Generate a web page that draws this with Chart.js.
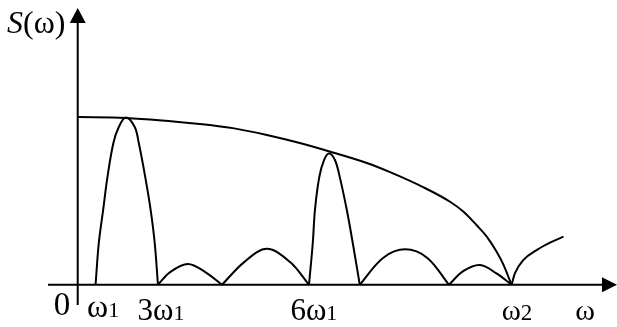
<!DOCTYPE html>
<html>
<head>
<meta charset="utf-8">
<script src="https://cdn.jsdelivr.net/npm/chart.js@4"></script>
<style>
  html, body { margin: 0; padding: 0; background: #fff; }
  #wrap { width: 617px; height: 327px; position: relative; }
</style>
</head>
<body>
<div id="wrap"><canvas id="chart"></canvas></div>
<script>
// axis ranges (x: frequency, y: spectral density, arbitrary units)
const xMin = -5.5, xMax = 99.8;
const yMin = -7.3, yMax = 100;

// envelope S(w), falls to zero at w2
const envelope = [[0,60.6],[8.9,60.3],[22.6,58.1],[28.7,56.6],[35.0,54.1],[41.1,51.2],[47.2,47.8],[53.5,44.0],[57.8,40.7],[63.9,35.3],[68.9,30.0],[71.4,26.4],[73.8,21.6],[75.7,17.4],[77.5,12.0],[78.8,7.2],[79.7,2.9],[80.3,0]];

// lobes of the spectrum
const mainLobe1 = [[3.3,0],[3.9,15.1],[4.7,27.0],[5.5,38.9],[6.6,51.2],[7.6,57.0],[8.9,60.4],[10.55,57.0],[11.3,51.2],[12.5,38.9],[13.5,27.0],[14.25,15.1],[14.85,0]];
const sideLobe1 = [[14.85,0],[17.1,4.6],[20.4,7.5],[23.6,4.6],[26.7,0]];
const sideLobe2 = [[26.7,0],[30.8,8.2],[35.0,13.0],[39.3,8.2],[42.8,0]];
const mainLobe2 = [[42.8,0],[43.5,15.1],[43.9,27.0],[44.7,38.9],[45.6,45.1],[46.5,47.4],[47.6,45.1],[48.5,38.9],[49.8,27.0],[50.9,15.1],[52.2,0]];
const sideLobe3 = [[52.2,0],[56.5,9.7],[60.6,12.8],[64.7,9.7],[68.7,0]];
const sideLobe4 = [[68.7,0],[71.4,5.0],[74.45,7.15],[77.5,4.1],[80.3,0]];
const tail = [[80.3,0],[80.9,4.1],[82.5,9.0],[85.0,12.6],[87.4,15.2],[89.9,17.4]];

// tick labels on the frequency axis
const tickPos = [-2.9, 4.7, 15.4, 43.7, 81.3, 93.9];
const tickMain = ['0', 'ω', '3ω', '6ω', 'ω', 'ω'];
const tickSub = ['', '1', '1', '1', '2', ''];

const FONT = '"Liberation Serif", "Times New Roman", serif';

function toXY(arr) { return arr.map(p => ({ x: p[0], y: p[1] })); }

// monotone curves (envelope, tail) get monotone interpolation, lobes a plain spline
function ds(arr, mono) {
    return {
        data: toXY(arr),
        borderColor: '#000',
        borderWidth: 2,
        pointRadius: 0,
        fill: false,
        tension: 0.35,
        cubicInterpolationMode: mono ? 'monotone' : 'default'
    };
}

// axes with arrows + labels, positioned through the scales
const axesPlugin = {
    id: 'axes',
    afterDatasetsDraw(chart) {
        const ctx = chart.ctx;
        const xs = chart.scales.x, ys = chart.scales.y;
        const x0 = xs.getPixelForValue(0), y0 = ys.getPixelForValue(0);
        const xEnd = xs.getPixelForValue(xMax), yTop = ys.getPixelForValue(yMax);

        ctx.save();
        ctx.strokeStyle = '#000';
        ctx.fillStyle = '#000';
        ctx.lineWidth = 2;

        ctx.beginPath();
        ctx.moveTo(xs.getPixelForValue(xMin), y0);
        ctx.lineTo(xEnd - 12, y0);
        ctx.moveTo(x0, ys.getPixelForValue(yMin));
        ctx.lineTo(x0, yTop + 12);
        ctx.stroke();

        // arrow heads
        ctx.beginPath();
        ctx.moveTo(xEnd, y0);
        ctx.lineTo(xEnd - 15, y0 - 7.5);
        ctx.lineTo(xEnd - 15, y0 + 7.5);
        ctx.closePath();
        ctx.fill();
        ctx.beginPath();
        ctx.moveTo(x0, yTop);
        ctx.lineTo(x0 - 8, yTop + 15);
        ctx.lineTo(x0 + 8, yTop + 15);
        ctx.closePath();
        ctx.fill();

        // y label S(ω)
        ctx.textBaseline = 'alphabetic';
        ctx.textAlign = 'left';
        ctx.font = 'italic 32px ' + FONT;
        ctx.fillText('S', 7, 33);
        const sw = ctx.measureText('S').width;
        ctx.font = '32px ' + FONT;
        ctx.fillText('(ω)', 7 + sw, 33);

        // x tick labels
        const mainSize = [33, 32, 31, 31, 29, 30];
        const subSize = [0, 22, 22, 22, 23, 0];
        const drop = [30, 32, 35, 35, 35, 35];
        tickPos.forEach((v, i) => {
            ctx.font = mainSize[i] + 'px ' + FONT;
            const mw = ctx.measureText(tickMain[i]).width;
            let sw2 = 0;
            if (tickSub[i]) {
                ctx.font = subSize[i] + 'px ' + FONT;
                sw2 = ctx.measureText(tickSub[i]).width;
            }
            const cx = xs.getPixelForValue(v);
            const left = cx - (mw + sw2) / 2;
            const base = y0 + drop[i];
            ctx.font = mainSize[i] + 'px ' + FONT;
            ctx.fillText(tickMain[i], left, base);
            if (tickSub[i]) {
                ctx.font = subSize[i] + 'px ' + FONT;
                ctx.fillText(tickSub[i], left + mw, base);
            }
        });
        ctx.restore();
    }
};

new Chart(document.getElementById('chart'), {
    type: 'line',
    data: {
        datasets: [
            ds(envelope, true),
            ds(mainLobe1), ds(sideLobe1), ds(sideLobe2), ds(mainLobe2), ds(sideLobe3), ds(sideLobe4),
            ds(tail, true)
        ]
    },
    options: {
        responsive: true,
        maintainAspectRatio: false,
        animation: false,
        layout: { padding: { left: 48, right: 0, top: 8, bottom: 22 } },
        plugins: { legend: { display: false }, tooltip: { enabled: false } },
        scales: {
            x: { type: 'linear', min: xMin, max: xMax, display: false },
            y: { type: 'linear', min: yMin, max: yMax, display: false }
        }
    },
    plugins: [axesPlugin]
});
</script>
</body>
</html>
